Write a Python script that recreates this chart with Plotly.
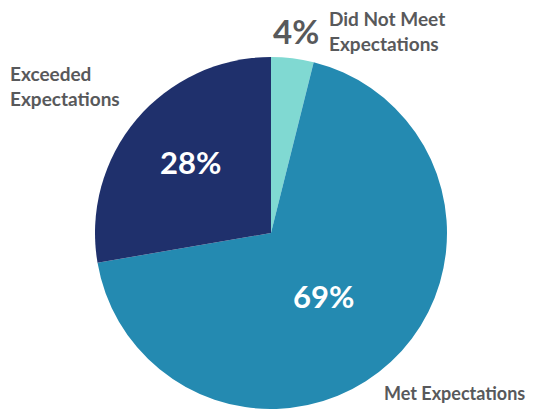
import plotly.graph_objects as go

categories = ["Did Not Meet Expectations", "Met Expectations", "Exceeded Expectations"]
values = [3.9, 68.4, 27.7]
pct_labels = ["4%", "69%", "28%"]
colors = ["#80D9D2", "#248AB1", "#1F306C"]

W, H = 529, 401  # page body adds an 8px offset
R = 176
CX, CY = 263, 226
fig = go.Figure(go.Pie(
    labels=categories, values=values, sort=False, direction="clockwise", rotation=0,
    marker=dict(colors=colors, line=dict(width=0)),
    textinfo="none", hoverinfo="label+percent", showlegend=False,
    domain=dict(x=[(CX - R) / W, (CX + R) / W], y=[0, 2 * R / H]),
))

grey = "#58595B"
font = "Lato, 'Open Sans', sans-serif"


def px(x):
    return x / W


def py(y):
    return 1 - y / H


ann = []
ann.append(dict(text="<b>" + pct_labels[0] + "</b>", x=px(288), y=py(23),
                font=dict(size=33, color=grey, family=font)))
ann.append(dict(text="<b>" + pct_labels[1] + "</b>", x=px(315), y=py(288),
                font=dict(size=31, color="white", family=font)))
ann.append(dict(text="<b>" + pct_labels[2] + "</b>", x=px(183), y=py(154),
                font=dict(size=31, color="white", family=font)))
ann.append(dict(text="<b>Did Not Meet<br>Expectations</b>", x=px(319), y=py(23),
                xanchor="left", align="left", font=dict(size=19, color=grey, family=font)))
ann.append(dict(text="<b>Exceeded<br>Expectations</b>", x=px(0), y=py(78),
                xanchor="left", align="left", font=dict(size=19, color=grey, family=font)))
ann.append(dict(text="<b>Met Expectations</b>", x=px(519), y=py(385),
                xanchor="right", align="right", font=dict(size=18, color=grey, family=font)))
for a in ann:
    a.setdefault("xanchor", "center")
    a.update(xref="paper", yref="paper", yanchor="middle", showarrow=False)

fig.update_layout(width=W, height=H, margin=dict(l=0, r=0, t=0, b=0),
                  paper_bgcolor="white", plot_bgcolor="white", annotations=ann)
fig.write_html("out.html")
